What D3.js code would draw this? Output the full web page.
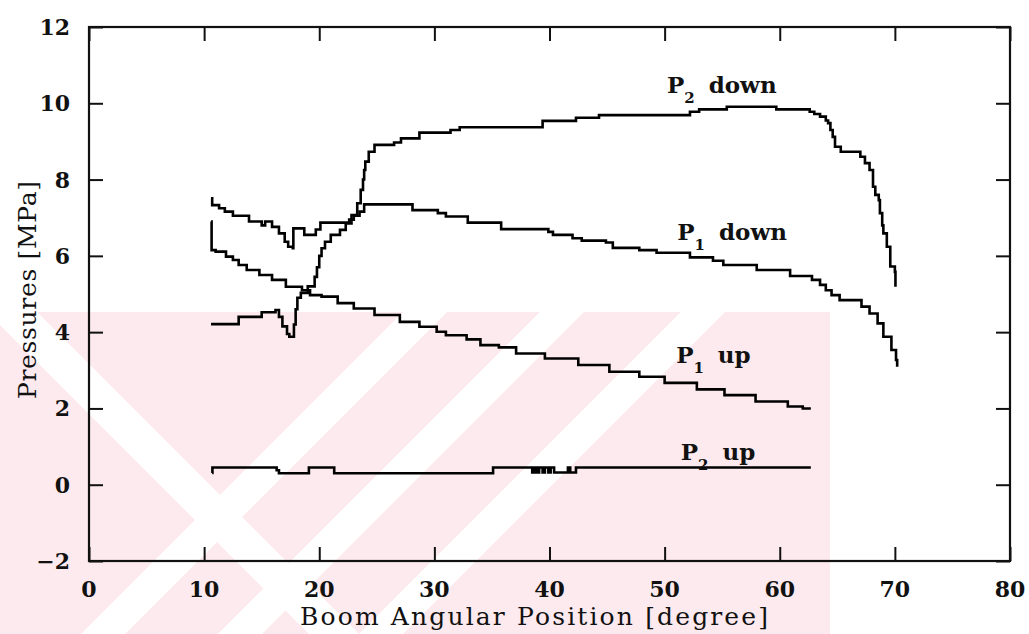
<!DOCTYPE html>
<html>
<head>
<meta charset="utf-8">
<script src="https://cdn.jsdelivr.net/npm/d3@7"></script>
<style>
  html, body { margin: 0; padding: 0; background: #fff; }
  svg { display: block; }
  .tick-label { font-family: "DejaVu Serif", serif; font-weight: bold; font-size: 22px; fill: #111; }
  .axis-title { font-family: "DejaVu Serif", serif; font-size: 25px; fill: #111; }
  .curve-label { font-family: "DejaVu Serif", serif; font-weight: bold; font-size: 23px; fill: #111; }
</style>
</head>
<body>
<svg id="chart" width="1029" height="634"></svg>
<script>
// Boom angle [degree] vs. pressure [MPa], step-wise samples
const p2DownAngle = [10.6, 13.0, 15.0, 16.2, 16.5, 16.8, 17.2, 17.4, 17.8, 17.95, 18.1, 18.4, 19.0, 19.6, 19.8, 20.0, 20.2, 20.5, 21.0, 21.8, 22.3, 22.8, 23.3, 23.6, 23.8, 23.9, 24.0, 24.3, 24.8, 26.5, 27.1, 28.7, 31.4, 32.2, 39.4, 42.3, 44.3, 52.2, 53.0, 55.4, 59.7, 62.6, 63.0, 63.5, 64.0, 64.2, 64.4, 64.6, 64.8, 65.3, 67.0, 67.4, 67.8, 68.1, 68.3, 68.6, 68.7, 68.9, 69.0, 69.3, 69.6, 70.0, 70.05];
const p2DownMPa   = [4.21, 4.40, 4.52, 4.58, 4.40, 4.15, 3.95, 3.88, 4.20, 4.60, 4.90, 5.03, 5.20, 5.45, 5.70, 6.00, 6.20, 6.37, 6.55, 6.68, 6.85, 7.07, 7.38, 7.73, 8.00, 8.25, 8.47, 8.73, 8.91, 8.97, 9.08, 9.23, 9.30, 9.37, 9.54, 9.62, 9.69, 9.78, 9.84, 9.91, 9.84, 9.78, 9.72, 9.65, 9.55, 9.48, 9.30, 9.12, 8.86, 8.73, 8.60, 8.43, 8.25, 7.81, 7.60, 7.46, 7.12, 6.80, 6.59, 6.24, 5.72, 5.58, 5.19];

const p1DownAngle = [10.6, 10.7, 11.3, 11.8, 12.5, 13.9, 15.0, 15.3, 15.9, 16.5, 17.0, 17.3, 17.7, 17.75, 18.7, 19.7, 20.1, 22.6, 23.0, 23.5, 23.9, 28.1, 30.3, 31.0, 32.9, 35.8, 39.9, 40.3, 42.0, 42.8, 44.9, 45.5, 47.8, 49.3, 52.2, 54.2, 55.1, 58.0, 60.9, 62.8, 63.5, 64.0, 64.5, 65.2, 67.1, 67.8, 68.5, 69.0, 69.7, 70.1, 70.2];
const p1DownMPa   = [7.51, 7.33, 7.25, 7.16, 7.05, 6.90, 6.80, 6.90, 6.76, 6.59, 6.37, 6.24, 6.20, 6.72, 6.55, 6.69, 6.87, 6.95, 7.05, 7.16, 7.35, 7.20, 7.12, 7.03, 6.87, 6.70, 6.63, 6.55, 6.46, 6.40, 6.35, 6.21, 6.15, 6.08, 5.96, 5.87, 5.76, 5.63, 5.47, 5.37, 5.24, 5.10, 4.97, 4.84, 4.67, 4.49, 4.23, 3.88, 3.53, 3.27, 3.09];

const p1UpAngle = [10.6, 10.65, 11.0, 11.9, 12.5, 13.0, 13.7, 14.8, 15.9, 17.1, 18.5, 19.2, 20.2, 21.6, 23.0, 24.8, 27.0, 28.7, 30.2, 31.0, 32.8, 34.0, 35.6, 37.1, 39.6, 42.5, 45.2, 47.8, 50.0, 52.8, 55.2, 57.9, 60.7, 62.0, 62.7];
const p1UpMPa   = [6.90, 6.15, 6.11, 5.98, 5.89, 5.76, 5.63, 5.50, 5.37, 5.19, 5.10, 4.97, 4.93, 4.76, 4.62, 4.45, 4.27, 4.14, 4.01, 3.92, 3.81, 3.66, 3.60, 3.44, 3.31, 3.14, 2.96, 2.83, 2.67, 2.50, 2.35, 2.18, 2.05, 2.00, 2.00];

const p2UpAngle = [10.7, 10.72, 16.1, 16.3, 16.5, 19.1, 21.3, 35.1, 38.5, 38.7, 38.9, 39.1, 39.4, 39.6, 39.9, 40.1, 40.4, 41.6, 41.8, 42.3, 62.7];
const p2UpMPa   = [0.31, 0.45, 0.45, 0.38, 0.30, 0.45, 0.30, 0.45, 0.32, 0.45, 0.32, 0.45, 0.32, 0.45, 0.32, 0.45, 0.32, 0.45, 0.32, 0.45, 0.45];

const xTicks = [0, 10, 20, 30, 40, 50, 60, 70, 80];
const yTicks = [-2, 0, 2, 4, 6, 8, 10, 12];

// Curve labels: main letter, subscript, word, anchor (angle, MPa)
const labelMain  = ["P", "P", "P", "P"];
const labelSub   = ["2", "1", "1", "2"];
const labelWord  = ["down", "down", "up", "up"];
const labelAngle = [50.2, 51.1, 51.0, 51.4];
const labelMPa   = [10.27, 6.42, 3.18, 0.65];

const svg = d3.select("#chart");
const W = 1029, H = 634;
const margin = { left: 89, right: 19, top: 27, bottom: 73 };

// faint pink background decoration in the lower-left area
const clip = svg.append("defs").append("clipPath").attr("id", "decoClip");
clip.append("rect").attr("x", 0).attr("y", 312).attr("width", 830).attr("height", 322);
const decoG = svg.append("g").attr("clip-path", "url(#decoClip)");
decoG.append("rect").attr("x", 0).attr("y", 312).attr("width", 830).attr("height", 322).attr("fill", "#fdeaee");
const slashBands = [737, 874, 1015];
slashBands.forEach(c => {
  const w = 44;
  decoG.append("polygon")
    .attr("points", [[c - w / 2 - 312, 312], [c + w / 2 - 312, 312], [c + w / 2 - 634, 634], [c - w / 2 - 634, 634]].map(p => p.join(",")).join(" "))
    .attr("fill", "#fff");
});
const backBands = [300];
backBands.forEach(c => {
  const w = 50;
  decoG.append("polygon")
    .attr("points", [[312 - c - w / 2, 312], [312 - c + w / 2, 312], [634 - c + w / 2, 634], [634 - c - w / 2, 634]].map(p => p.join(",")).join(" "))
    .attr("fill", "#fff");
});

const x = d3.scaleLinear().domain([0, 80]).range([margin.left, W - margin.right]);
const y = d3.scaleLinear().domain([-2, 12]).range([H - margin.bottom, margin.top]);

// frame
svg.append("rect")
  .attr("x", x(0)).attr("y", y(12))
  .attr("width", x(80) - x(0)).attr("height", y(-2) - y(12))
  .attr("fill", "none").attr("stroke", "#111").attr("stroke-width", 2.2);

const tickLen = 14;
// axes with inward ticks on all four sides
const axB = d3.axisBottom(x).tickValues(xTicks).tickSize(tickLen).tickFormat("");
const axT = d3.axisTop(x).tickValues(xTicks).tickSize(tickLen).tickFormat("");
const axL = d3.axisLeft(y).tickValues(yTicks).tickSize(tickLen).tickFormat("");
const axR = d3.axisRight(y).tickValues(yTicks).tickSize(tickLen).tickFormat("");
function styleAxis(g) {
  g.select(".domain").remove();
  g.selectAll(".tick line").attr("stroke", "#111").attr("stroke-width", 2);
}
svg.append("g").attr("transform", `translate(0,${y(-2)}) scale(1,-1)`).call(axB).call(styleAxis);
svg.append("g").attr("transform", `translate(0,${y(12)}) scale(1,-1)`).call(axT).call(styleAxis);
svg.append("g").attr("transform", `translate(${x(0)},0) scale(-1,1)`).call(axL).call(styleAxis);
svg.append("g").attr("transform", `translate(${x(80)},0) scale(-1,1)`).call(axR).call(styleAxis);

// tick labels
svg.append("g").selectAll("text").data(xTicks).join("text")
  .attr("class", "tick-label")
  .attr("x", d => x(d)).attr("y", 597)
  .attr("text-anchor", "middle")
  .text(d => d);
svg.append("g").selectAll("text").data(yTicks).join("text")
  .attr("class", "tick-label")
  .attr("x", 70).attr("y", d => y(d) + 8)
  .attr("text-anchor", "end")
  .text(d => d < 0 ? "\u2212" + Math.abs(d) : d);

// axis titles
svg.append("text").attr("class", "axis-title")
  .attr("x", 300).attr("y", 625)
  .attr("textLength", 468).attr("lengthAdjust", "spacing")
  .text("Boom Angular Position [degree]");
svg.append("text").attr("class", "axis-title")
  .attr("transform", "translate(36,399) rotate(-90)")
  .attr("textLength", 218).attr("lengthAdjust", "spacing")
  .text("Pressures [MPa]");

// series
const line = d3.line().curve(d3.curveStepAfter).x(d => x(d[0])).y(d => y(d[1]));
const series = [
  d3.zip(p2DownAngle, p2DownMPa),
  d3.zip(p1DownAngle, p1DownMPa),
  d3.zip(p1UpAngle, p1UpMPa),
  d3.zip(p2UpAngle, p2UpMPa)
];
svg.append("g").selectAll("path").data(series).join("path")
  .attr("d", line)
  .attr("fill", "none")
  .attr("stroke", "#000")
  .attr("stroke-width", 2.6)
  .attr("stroke-linejoin", "miter");

// curve labels
const labels = d3.range(labelMain.length).map(i => ({
  main: labelMain[i], sub: labelSub[i], word: labelWord[i], a: labelAngle[i], p: labelMPa[i]
}));
const lg = svg.append("g").selectAll("text").data(labels).join("text")
  .attr("class", "curve-label")
  .attr("x", d => x(d.a)).attr("y", d => y(d.p));
lg.append("tspan").text(d => d.main);
lg.append("tspan").attr("dy", 10).attr("font-size", 15).text(d => d.sub);
lg.append("tspan").attr("dy", -10).attr("dx", 14).text(d => d.word);
</script>
</body>
</html>
